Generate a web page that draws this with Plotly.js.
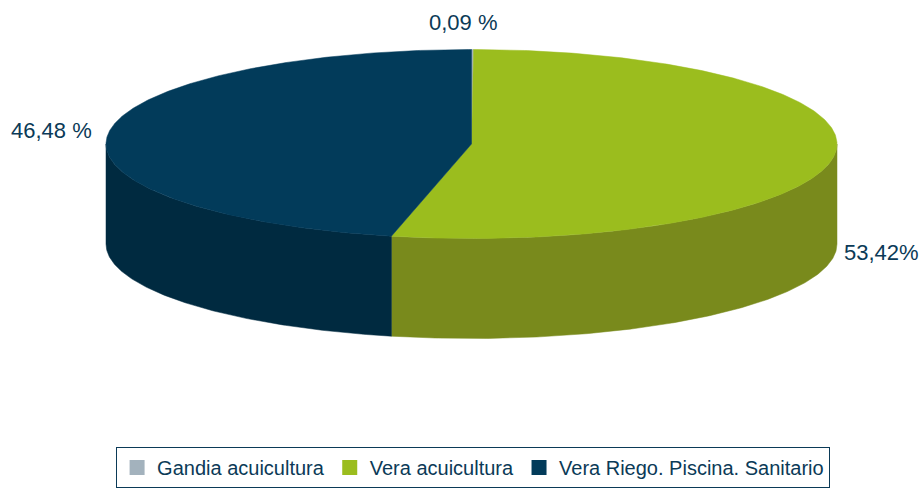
<!DOCTYPE html>
<html><head><meta charset="utf-8">
<script src="https://cdn.plot.ly/plotly-3.0.1.min.js"></script>
<style>html,body{margin:0;padding:0;background:#fff}#chart{width:924px;height:488px}</style>
</head><body><div id="chart"></div>
<script>
// Data
const categories = ["Gandia acuicultura", "Vera acuicultura", "Vera Riego. Piscina. Sanitario"];
const values = [0.09, 53.42, 46.48];
const labelTexts = ["0,09 %", "53,42%", "46,48 %"];
const topColors = ["#a3b2bd", "#9bbd1e", "#023b5a"];
const sideColors = ["#7d8a93", "#798a1c", "#002a40"];

// Geometry (layout)
const cx = 471.5, cy = 144, rx = 365.5, ry = 94.5, depth = 100;
const labelPos = [[463, 22], [881, 252], [51, 130]];

function pt(deg, dy) {
  const t = deg * Math.PI / 180;
  return [cx + rx * Math.sin(t), cy - ry * Math.cos(t) + (dy || 0)];
}
function arc(a, b, dy) {
  const pts = [];
  const n = Math.max(2, Math.ceil(Math.abs(b - a) / 0.5));
  for (let i = 0; i <= n; i++) pts.push(pt(a + (b - a) * i / n, dy));
  return pts;
}

const total = values.reduce((s, v) => s + v, 0);
const slices = [];
let acc = 0;
values.forEach((v, i) => {
  const a = acc / total * 360;
  acc += v;
  const b = acc / total * 360;
  slices.push([a, b]);
});

const traces = [];
// side walls (front half: 90..270)
slices.forEach(([a, b], i) => {
  const s = Math.max(a, 90), e = Math.min(b, 270);
  if (e <= s) return;
  const top = arc(s, e, 0);
  const bot = arc(e, s, depth);
  const all = top.concat(bot);
  all.push(all[0]);
  traces.push({
    type: "scatter", mode: "lines", fill: "toself",
    x: all.map(p => p[0]), y: all.map(p => p[1]),
    fillcolor: sideColors[i], line: {color: sideColors[i], width: 0.5},
    hoverinfo: "skip", showlegend: false
  });
});
// top faces
slices.forEach(([a, b], i) => {
  const pts = [[cx, cy]].concat(arc(a, b, 0));
  pts.push([cx, cy]);
  traces.push({
    type: "scatter", mode: "lines", fill: "toself",
    x: pts.map(p => p[0]), y: pts.map(p => p[1]),
    fillcolor: topColors[i], line: {color: topColors[i], width: 0.5},
    hoverinfo: "skip", showlegend: false
  });
});
// legend entries
categories.forEach((c, i) => {
  traces.push({
    type: "scatter", mode: "markers", x: [null], y: [null], name: c,
    marker: {symbol: "square", size: 15, color: topColors[i]},
    hoverinfo: "skip", showlegend: true
  });
});

const font = "'Liberation Sans', Arial, sans-serif";
const annotations = labelTexts.map((t, i) => ({
  x: labelPos[i][0], y: labelPos[i][1], xref: "x", yref: "y",
  text: t, showarrow: false, font: {family: font, size: 22, color: "#0b3a57"},
  xanchor: "center", yanchor: "middle"
}));

const layout = {
  width: 924, height: 488,
  margin: {l: 0, r: 0, t: 0, b: 0},
  paper_bgcolor: "#fff", plot_bgcolor: "#fff",
  xaxis: {range: [0, 924], visible: false, fixedrange: true},
  yaxis: {range: [488, 0], visible: false, fixedrange: true},
  showlegend: true,
  legend: {
    orientation: "h", x: 0.512, xanchor: "center", y: 0.0, yanchor: "bottom",
    font: {family: font, size: 20, color: "#0b3a57"},
    bordercolor: "#0b3a57", borderwidth: 1, bgcolor: "#fff",
    itemwidth: 30, tracegroupgap: 0
  },
  annotations: annotations
};
Plotly.newPlot("chart", traces, layout, {staticPlot: true, displayModeBar: false});
</script></body></html>
